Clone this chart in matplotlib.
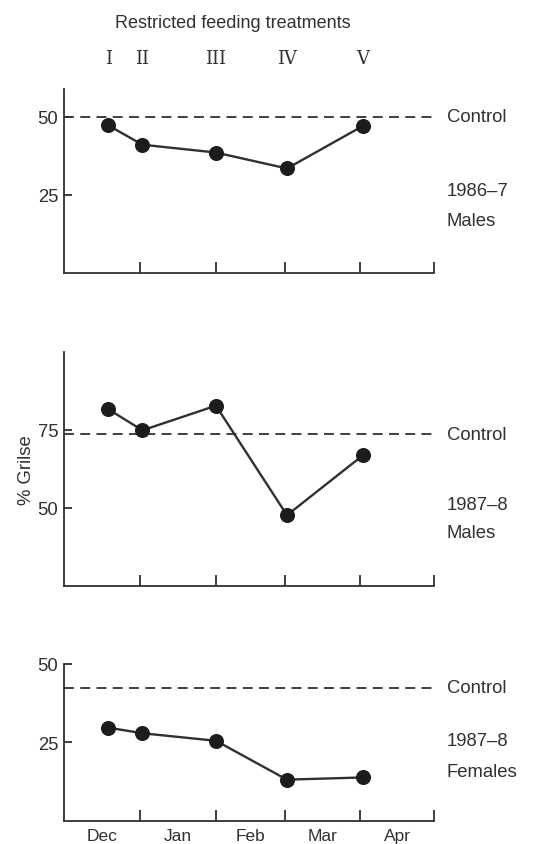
import matplotlib
matplotlib.use("Agg")
import matplotlib.pyplot as plt

# x positions in days from 1 Dec
month_bounds = [0, 31, 62, 90, 121, 151]
month_labels = ["Dec", "Jan", "Feb", "Mar", "Apr"]
treat_days = [18, 32, 62, 91, 122]
treat_labels = ["I", "II", "III", "IV", "V"]

males_1986 = [47.2, 41.0, 38.5, 33.4, 47.0]
males_1987 = [81.6, 74.8, 82.7, 47.6, 66.8]
females_1987 = [29.7, 27.9, 25.5, 13.1, 13.8]

controls = [50.0, 73.6, 42.4]
ylims = [(0, 58.8), (25, 100), (0, 50)]
yticks = [[25, 50], [50, 75], [25, 50]]
group_labels = ["1986\u20137\nMales", "1987\u20138\nMales", "1987\u20138\nFemales"]

W, H = 549, 845
fig = plt.figure(figsize=(W / 100, H / 100), dpi=100)
plt.rcParams['font.family'] = ['Liberation Sans', 'DejaVu Sans']

ink = '#303030'
left = 64 / W
width = (434 - 64) / W
panels = [(90, 274), (352.7, 586.7), (665, 821.7)]
series = [males_1986, males_1987, females_1987]
label_y = [(191, 222), (505, 534), (742, 773)]
fs = 13.3

for i, ((top, bot), data) in enumerate(zip(panels, series)):
    ax = fig.add_axes([left, 1 - bot / H, width, (bot - top) / H])
    ax.set_xlim(month_bounds[0], month_bounds[-1])
    ax.set_ylim(*ylims[i])
    for s in ['top', 'right']:
        ax.spines[s].set_visible(False)
    for s in ['left', 'bottom']:
        ax.spines[s].set_color(ink)
        ax.spines[s].set_linewidth(1.3)
    ax.set_xticks(month_bounds[1:])
    ax.set_xticklabels([])
    ax.tick_params(axis='x', direction='in', length=8, width=1.3, color=ink)
    ax.set_yticks(yticks[i])
    ax.tick_params(axis='y', direction='in', length=6, width=1.3, color=ink,
                   labelsize=fs, labelcolor=ink, pad=4)
    ax.axhline(controls[i], color=ink, lw=1.3, dashes=(5.5, 3.5), clip_on=False)
    ax.plot(treat_days, data, color=ink, lw=1.7, marker='o', markersize=9.8,
            markerfacecolor='#1c1c1c', markeredgecolor='#1c1c1c', clip_on=False)
    # right-hand labels
    y_ctrl = ax.transData.transform((0, controls[i]))[1]
    fig.text(447 / W, y_ctrl / H, "Control", fontsize=fs, color=ink,
             va='center', ha='left')
    y1, y2 = label_y[i]
    lab1, lab2 = group_labels[i].split("\n")
    fig.text(447 / W, 1 - y1 / H, lab1, fontsize=fs, color=ink, va='center', ha='left')
    fig.text(447 / W, 1 - y2 / H, lab2, fontsize=fs, color=ink, va='center', ha='left')
    if i == 0:
        for d, lab in zip(treat_days, treat_labels):
            ax.text(d, 1 + 31 / (bot - top), lab, transform=ax.get_xaxis_transform(),
                    ha='center', va='center', fontsize=13, color=ink,
                    family=['DejaVu Serif'])
        ax.text(0.456, 1 + 66 / (bot - top), "Restricted feeding treatments",
                transform=ax.transAxes, ha='center', va='center', fontsize=13, color=ink)
    if i == 1:
        ax.set_ylabel("% Grilse", fontsize=fs, color=ink, labelpad=2)
    if i == 2:
        centers = [(a + b) / 2 for a, b in zip(month_bounds[:-1], month_bounds[1:])]
        for c, lab in zip(centers, month_labels):
            ax.text(c, -15 / (bot - top), lab, transform=ax.get_xaxis_transform(),
                    ha='center', va='center', fontsize=12.5, color=ink)

fig.savefig("out.png", dpi=100, facecolor='white')
